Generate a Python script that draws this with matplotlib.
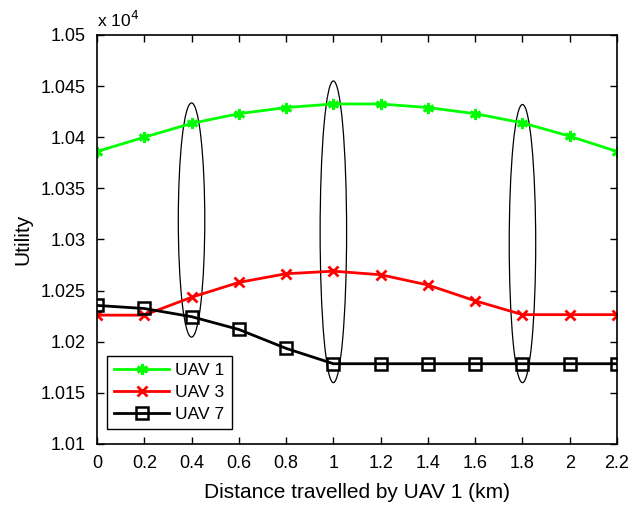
import matplotlib
matplotlib.use("Agg")
import matplotlib.pyplot as plt
from matplotlib.patches import Ellipse

plt.rcParams["font.family"] = ["Liberation Sans", "DejaVu Sans"]

SCALE = 1e4
distance = [0, 0.2, 0.4, 0.6, 0.8, 1.0, 1.2, 1.4, 1.6, 1.8, 2.0, 2.2]
uav1 = [10386, 10400, 10413.5, 10423, 10429, 10432.5, 10432.5, 10429, 10423, 10414, 10401, 10386]
uav3 = [10226, 10226, 10243.5, 10258, 10266.5, 10269, 10265.5, 10255.5, 10240, 10226.5, 10226.5, 10226.5]
uav7 = [10235.5, 10232.5, 10224.5, 10212, 10193.5, 10178.5, 10178.5, 10178.5, 10178.5, 10178.5, 10178.5, 10178.5]

# highlighted distances: (x centre, y centre, height) in axis units
ellipses = [(0.4, 1.0319, 0.0229), (1.0, 1.03075, 0.0295), (1.8, 1.0296, 0.0272)]

fig = plt.figure(figsize=(6.44, 5.05), dpi=100)
ax = fig.add_axes([0.1506, 0.1208, 0.8075, 0.81])

ax.plot(distance, [v / SCALE for v in uav1], color="#00ff00", lw=2,
        marker=(6, 2, 0), ms=8, mew=2, label="UAV 1")
ax.plot(distance, [v / SCALE for v in uav3], color="#ff0000", lw=2,
        marker="x", ms=7, mew=2, label="UAV 3")
ax.plot(distance, [v / SCALE for v in uav7], color="black", lw=2,
        marker="s", ms=8, mew=1.8, mfc="none", label="UAV 7")

for xc, yc, h in ellipses:
    ax.add_patch(Ellipse((xc, yc), 0.112, h, fill=False, ec="black", lw=0.9))

ax.set_xlim(0, 2.2)
ax.set_ylim(1.01, 1.05)
ax.set_xticks([0, 0.2, 0.4, 0.6, 0.8, 1, 1.2, 1.4, 1.6, 1.8, 2, 2.2])
ax.set_xticklabels(["0", "0.2", "0.4", "0.6", "0.8", "1", "1.2", "1.4", "1.6", "1.8", "2", "2.2"])
ax.set_yticks([1.01, 1.015, 1.02, 1.025, 1.03, 1.035, 1.04, 1.045, 1.05])
ax.set_yticklabels(["1.01", "1.015", "1.02", "1.025", "1.03", "1.035", "1.04", "1.045", "1.05"])
ax.tick_params(direction="in", top=True, right=True, labelsize=13, length=5, width=1, pad=8)
for s in ax.spines.values():
    s.set_linewidth(1.2)

ax.set_xlabel("Distance travelled by UAV 1 (km)", fontsize=15, labelpad=8)
ax.set_ylabel("Utility", fontsize=15, labelpad=6)
ax.text(0.0, 1.012, r"x 10$^4$", transform=ax.transAxes, fontsize=12.5, va="bottom")

leg = ax.legend(loc="lower left", bbox_to_anchor=(0.019, 0.037), borderaxespad=0,
                fontsize=12.5, fancybox=False, framealpha=1, edgecolor="black",
                handlelength=3.2, handletextpad=0.35, borderpad=0.4, labelspacing=0.4)
leg.get_frame().set_linewidth(1)

fig.savefig("out.png", dpi=100)
